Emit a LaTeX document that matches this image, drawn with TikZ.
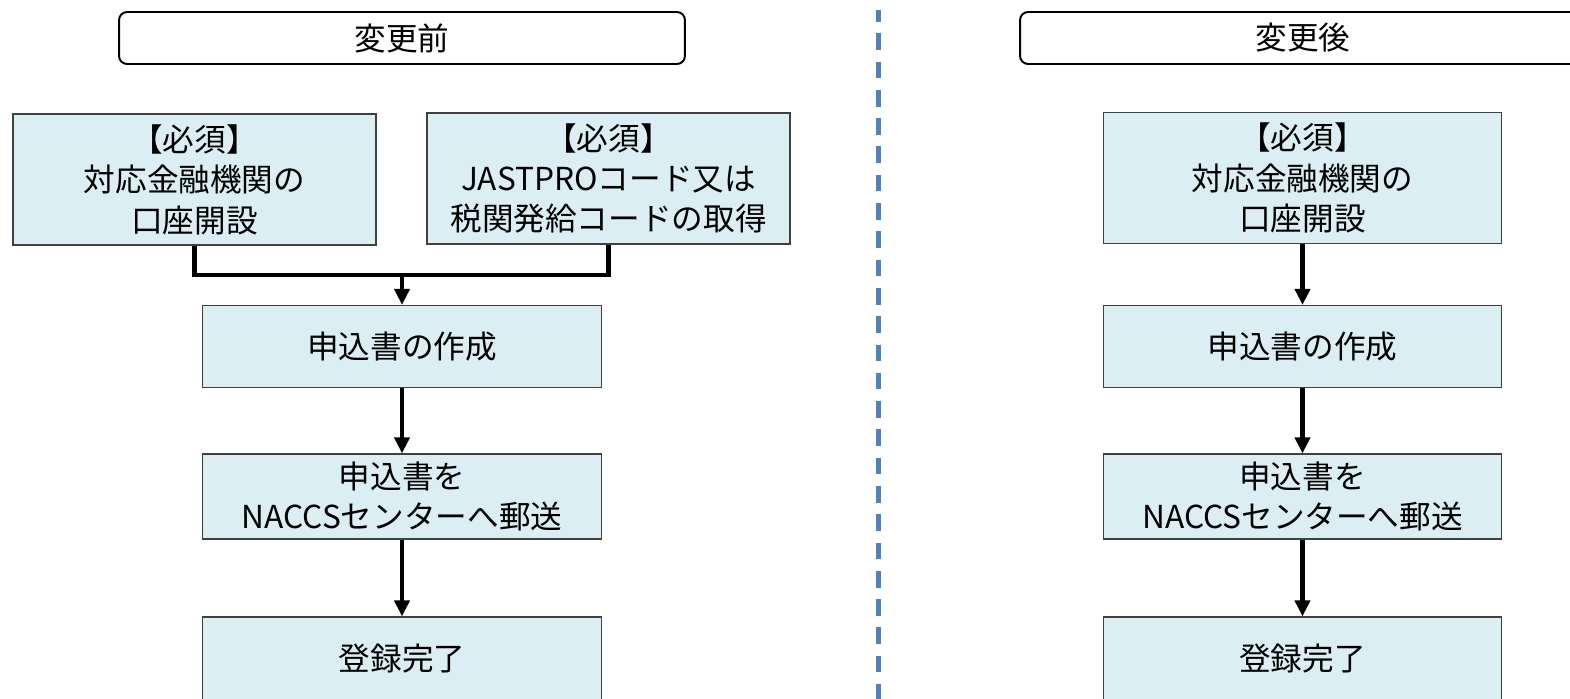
\documentclass[tikz,border=0pt]{standalone}
\usepackage{fontspec}
\setmainfont{Noto Sans CJK JP}
\usetikzlibrary{arrows.meta}
\definecolor{boxfill}{HTML}{DAEEF3}
\definecolor{divblue}{HTML}{4F81BD}
\tikzset{
  headbox/.style={draw, line width=1.1pt, rounded corners=0.16cm, minimum width=11.32cm, minimum height=1.04cm, inner sep=0pt},
  flowbox/.style={draw=black!75, line width=0.7pt, fill=boxfill, align=center, inner sep=0pt, minimum width=7.97cm, minimum height=1.64cm},
  reqbox/.style={flowbox, minimum width=7.26cm, minimum height=2.62cm},
  flowline/.style={line width=2.3pt},
  flowarrow/.style={flowline, -{Triangle[length=0.32cm, width=0.3cm]}},
  divider/.style={divblue, line width=3.2pt, dash pattern=on 0.333cm off 0.233cm, dash phase=0.1cm}
}

\begin{document}
\begin{tikzpicture}[x=0.02cm, y=-0.02cm, font=\fontsize{18}{23}\selectfont]
        \clip (0,0) rectangle (1570,699);

        \coordinate (mergeL) at (402,275);

        \node[headbox] (headL) at (402,38) {変更前};
        \node[headbox] (headR) at (1303,38) {変更後};

        \node[reqbox] (bankL) at (194.5,179.5) {【必須】\\対応金融機関の\\口座開設};
        \node[reqbox] (code) at (608.5,178.5) {【必須】\\JASTPROコード又は\\税関発給コードの取得};
        \node[flowbox] (makeL) at (402,346.5) {申込書の作成};
        \node[flowbox, minimum height=1.7cm] (mailL) at (402,496.5) {申込書を\\NACCSセンターへ郵送};
        \node[flowbox, minimum height=1.68cm] (doneL) at (402,659) {登録完了};

        \node[reqbox, minimum width=7.97cm] (bankR) at (1302.5,178) {【必須】\\対応金融機関の\\口座開設};
        \node[flowbox] (makeR) at (1302.5,346.5) {申込書の作成};
        \node[flowbox, minimum height=1.7cm] (mailR) at (1302.5,496.5) {申込書を\\NACCSセンターへ郵送};
        \node[flowbox, minimum height=1.68cm] (doneR) at (1302.5,659) {登録完了};

        \draw[flowline] (bankL.south) |- (mergeL) -| (code.south);
        \draw[flowarrow] (mergeL) -- (makeL.north);
        \draw[flowarrow] (makeL) -- (mailL);
        \draw[flowarrow] (mailL) -- (doneL);

        \draw[flowarrow] (bankR) -- (makeR);
        \draw[flowarrow] (makeR) -- (mailR);
        \draw[flowarrow] (mailR) -- (doneR);

        \draw[divider] (878.5,10) -- (878.5,699);
    \end{tikzpicture}
\end{document}
